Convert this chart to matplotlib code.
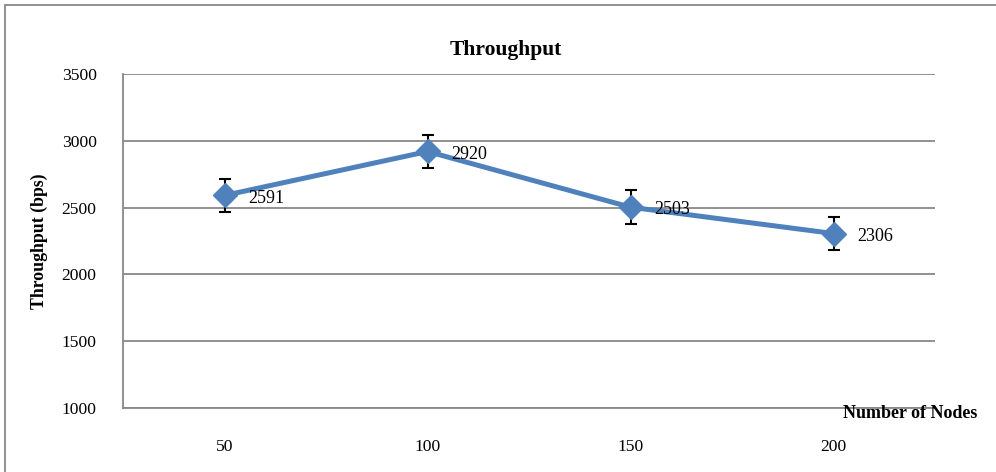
import matplotlib.pyplot as plt
from matplotlib.patches import Rectangle

nodes = ['50', '100', '150', '200']
throughput = [2591, 2920, 2503, 2306]
errors = [125, 125, 125, 125]
yticks = [1000, 1500, 2000, 2500, 3000, 3500]

plt.rcParams['font.family'] = ['Liberation Serif', 'DejaVu Serif']

fig = plt.figure(figsize=(9.96, 4.72), dpi=100)
ax = fig.add_axes([123/996, 1-408/472, 812/996, 334/472])

x = list(range(len(nodes)))
ax.errorbar(x, throughput, yerr=errors, fmt='none', ecolor='black', elinewidth=1.5,
            capsize=4, capthick=1.5, zorder=2)
ax.plot(x, throughput, color='#4F81BD', lw=3.6, marker='D', markersize=12, zorder=3)
for xi, v in zip(x, throughput):
    ax.annotate(str(v), (xi, v), xytext=(17, -2), textcoords='offset points',
                ha='left', va='center', fontsize=13, zorder=4)

ax.set_xlim(-0.5, len(nodes) - 0.5)
ax.set_ylim(1000, 3500)
ax.set_yticks(yticks)
ax.set_xticks(x)
ax.set_xticklabels(nodes)
ax.tick_params(axis='both', length=0, labelsize=12.6)
ax.tick_params(axis='y', pad=19)
ax.tick_params(axis='x', pad=22)
ax.grid(axis='y', color='#888888', lw=1.3)
ax.set_axisbelow(True)
for s in ['top', 'right']:
    ax.spines[s].set_visible(False)
ax.spines['left'].set_color('#888888')
ax.spines['bottom'].set_color('#888888')
ax.spines['left'].set_linewidth(1.3)
ax.spines['bottom'].set_linewidth(1.3)

ax.set_ylabel('Throughput (bps)', fontsize=12.8, fontweight='bold', labelpad=10)
fig.text(506/996, 1-50/472, 'Throughput', ha='center', va='center', fontsize=15.5, fontweight='bold')
fig.text(977/996, 1-414/472, 'Number of Nodes', ha='right', va='center', fontsize=13, fontweight='bold')

fig.patches.append(Rectangle((5/996, -0.1), 1.2, 1-5/472+0.1, transform=fig.transFigure,
                             fill=False, edgecolor='#888888', lw=1.3))

fig.savefig('out.png', dpi=100)
